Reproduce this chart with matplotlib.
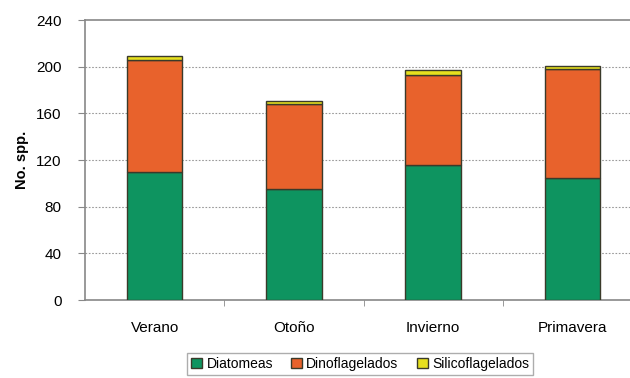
import matplotlib.pyplot as plt
import numpy as np

plt.rcParams['font.family'] = ['Liberation Sans', 'DejaVu Sans']
plt.rcParams['font.size'] = 10

seasons = ['Verano', 'Otoño', 'Invierno', 'Primavera']
diatomeas = [110, 95, 116, 105]
dinoflagelados = [96, 73, 77, 93]
silicoflagelados = [3, 3, 4, 3]

color_dia = '#0e9460'
color_dino = '#e8622c'
color_sil = '#e6e01e'
edge = '#3a3a2a'

fig = plt.figure(figsize=(6.3, 3.78), dpi=100)
ax = fig.add_axes([85 / 630, 78 / 378, 557 / 630, 280 / 378])

x = np.arange(len(seasons))
w = 0.40
dia = np.array(diatomeas)
dino = np.array(dinoflagelados)
sil = np.array(silicoflagelados)

ax.bar(x, dia, w, color=color_dia, edgecolor=edge, linewidth=1, label='Diatomeas', zorder=3)
ax.bar(x, dino, w, bottom=dia, color=color_dino, edgecolor=edge, linewidth=1,
       label='Dinoflagelados', zorder=3)
ax.bar(x, sil, w, bottom=dia + dino, color=color_sil, edgecolor=edge, linewidth=1,
       label='Silicoflagelados', zorder=3)

ax.set_xlim(-0.5, len(seasons) - 0.5)
ax.set_ylim(0, 240)
ax.set_yticks(np.arange(0, 241, 40))
ax.set_xticks(np.arange(0.5, len(seasons) - 0.5, 1), minor=True)
ax.set_xticks(x)
ax.set_xticklabels(seasons, fontsize=11)
ax.tick_params(axis='x', which='major', length=0, pad=15)
ax.tick_params(axis='x', which='minor', length=4, direction='out', color='#888888')
ax.tick_params(axis='y', length=5, color='#888888', labelsize=11, pad=12)

for y in range(40, 240, 40):
    ax.axhline(y, color='#999999', linestyle=(0, (1.5, 1.5)), linewidth=0.8, zorder=1)

for s in ['left', 'bottom', 'top']:
    ax.spines[s].set_color('#888888')
    ax.spines[s].set_linewidth(1.2)
ax.spines['right'].set_visible(False)

ax.set_ylabel('No. spp.', fontweight='bold', fontsize=10.5, labelpad=5)

fig.legend(loc='center', bbox_to_anchor=(360 / 630, 1 - 364 / 378), ncol=3,
           frameon=True, fancybox=False, edgecolor='#999999', fontsize=10,
           handlelength=0.8, handleheight=0.8, handletextpad=0.3, columnspacing=1.3,
           borderpad=0.3)

fig.savefig('out.png', dpi=100)
